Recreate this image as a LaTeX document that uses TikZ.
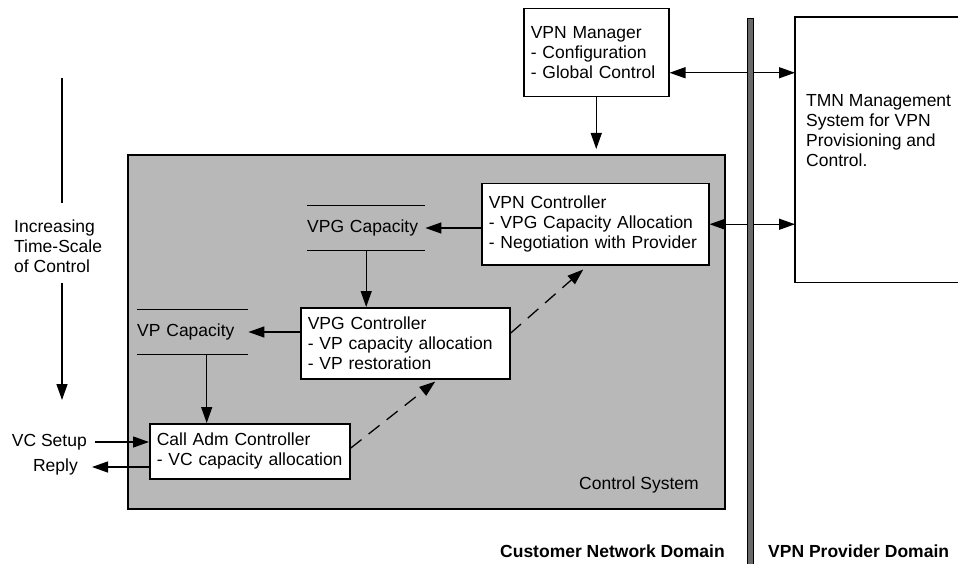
\documentclass[tikz,border=0pt]{standalone}
\usepackage{fontspec}
\setmainfont{Liberation Sans}
\usetikzlibrary{arrows.meta,positioning}
\definecolor{shadegray}{RGB}{184,184,184}
\definecolor{bargray}{RGB}{105,105,105}

\begin{document}
\begin{tikzpicture}[x=1pt, y=-1pt,
    every node/.style={font=\fontsize{17.5}{20}\selectfont},
    region/.style={draw, line width=1.8pt, fill=shadegray, anchor=north west, inner sep=0pt},
    ctrlunit/.style 2 args={draw, line width=1.5pt, fill=white, anchor=north west, align=left,
        inner xsep=7pt, inner ysep=0pt, text width=#1, minimum height=#2},
    capstore/.style={anchor=west, align=left, inner sep=0pt, text width=#1, minimum height=45pt},
    storeline/.style={line width=1pt},
    sidetext/.style={inner sep=0pt},
    domaintext/.style={inner sep=0pt, font=\fontsize{17.5}{20}\selectfont\bfseries},
    arc/.style={line width=1.3pt, -{Triangle[length=16pt,width=11pt]}},
    twoway/.style={line width=1.3pt, {Triangle[length=16pt,width=11pt]}-{Triangle[length=16pt,width=11pt]}},
    feedback/.style={arc, dash pattern=on 14pt off 9pt},
    divider/.style={draw, line width=0.8pt, fill=bargray}
    ]
    \useasboundingbox (0,0) rectangle (958,564);

    % Define regions and boxes
    \node[region, minimum width=597pt, minimum height=354pt] (ctrl) at (127,154) {};
    \node[sidetext] (ctrllabel) at (639,485) {Control System};

    \node[ctrlunit={131pt}{88pt}] (mgr) at (523,8) {VPN Manager\\- Configuration\\- Global Control};
    \node[ctrlunit={213pt}{81pt}] (vpnc) at (481,183) {VPN Controller\\- VPG Capacity Allocation\\- Negotiation with Provider};
    \node[ctrlunit={195pt}{71pt}] (vpgc) at (300,307) {VPG Controller\\- VP capacity allocation\\- VP restoration};
    \node[ctrlunit={186pt}{55pt}] (cac) at (149,423) {Call Adm Controller\\- VC capacity allocation};

    \node[capstore=118pt] (vpgcap) at (307,228) {VPG Capacity};
    \draw[storeline] (vpgcap.north west) -- (vpgcap.north east) (vpgcap.south west) -- (vpgcap.south east);
    \node[capstore=111pt] (vpcap) at (137,332) {VP Capacity};
    \draw[storeline] (vpcap.north west) -- (vpcap.north east) (vpcap.south west) -- (vpcap.south east);

    \node[anchor=north west, minimum width=163pt, minimum height=265pt, inner sep=0pt] (tmn) at (795,17) {};
    \draw[line width=1.5pt] (tmn.north east) -- (tmn.north west) -- (tmn.south west) -- (tmn.south east);
    \node[sidetext, anchor=north west, align=left] (tmntext) at (806,94) {TMN Management\\System for VPN\\Provisioning and\\Control.};

    % Define outside texts
    \node[sidetext, anchor=east] (setup) at (87,442) {VC Setup};
    \node[sidetext, anchor=east] (reply) at (78,467) {Reply};
    \node[sidetext, anchor=west, align=left] (timescale) at (14,246) {Increasing\\Time-Scale\\of Control};
    \coordinate (tstop) at (62,78);
    \coordinate (tsend) at (62,400);
    \node[domaintext, anchor=east] (custdom) at (725,551) {Customer Network Domain};
    \node[domaintext, anchor=west] (provdom) at (768,551) {VPN Provider Domain};

    % Define arrows
    \coordinate (mgrport) at ([yshift=-20pt]mgr.east);
    \draw[twoway] (mgrport) -- (mgrport -| tmn.west);
    \draw[arc, shorten >=5pt] (mgr.south) -- (mgr.south |- ctrl.north);
    \draw[twoway] (vpnc.east) -- (vpnc.east -| tmn.west);
    \draw[arc] (vpnc.west |- vpgcap.east) -- (vpgcap.east);
    \draw[arc] (vpgcap.south) -- (vpgcap.south |- vpgc.north);
    \draw[arc] (vpgc.west |- vpcap.east) -- (vpcap.east);
    \coordinate (vpfeed) at ([xshift=14pt]vpcap.south);
    \draw[arc] (vpfeed) -- (vpfeed |- cac.north);
    \draw[feedback] ([yshift=3pt]cac.east) -- ([xshift=30pt,yshift=-2pt]vpgc.south);
    \draw[feedback] ([yshift=10pt]vpgc.east) -- ([xshift=-12pt,yshift=-4pt]vpnc.south);

    \draw[arc, shorten <=8pt] (setup.east) -- (setup.east -| cac.west);
    \draw[arc, shorten >=14pt] (reply.east -| cac.west) -- (reply.east);

    \draw[line width=1.3pt, shorten >=16pt] (tstop) -- (tstop |- timescale.north);
    \draw[arc, shorten <=10pt] (tsend |- timescale.south) -- (tsend);

    % Domain divider
    \draw[divider] (747,18) rectangle (753,564);
\end{tikzpicture}
\end{document}
